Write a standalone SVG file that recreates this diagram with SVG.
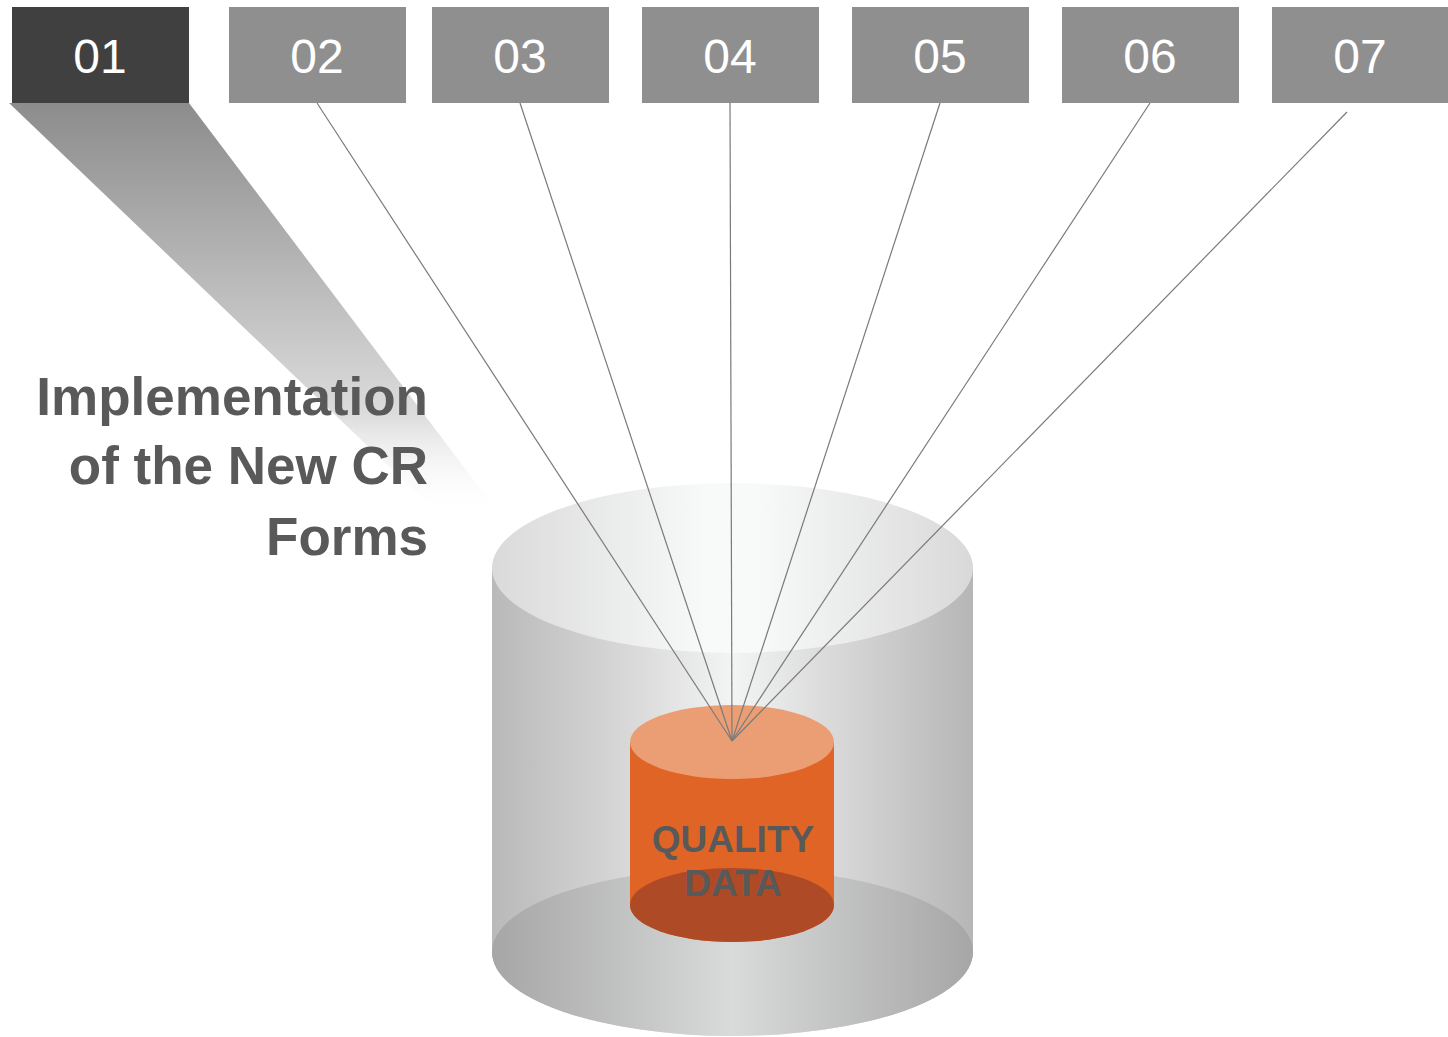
<svg xmlns="http://www.w3.org/2000/svg" width="1448" height="1037" viewBox="0 0 1448 1037">
<defs>
<style>
.box{fill:#8f8f8f}
.box1{fill:#404040}
.num{font-family:"Liberation Sans",Arial,sans-serif;font-size:48px;fill:#ffffff;text-anchor:middle}
.title{font-family:"Liberation Sans",Arial,sans-serif;font-size:53px;font-weight:bold;fill:#595959;text-anchor:end}
.qd{font-family:"Liberation Sans",Arial,sans-serif;font-size:37px;font-weight:bold;fill:#595959;text-anchor:middle}
.conn line{stroke:#7a7a7a;stroke-width:1.2;fill:none}
</style>
<linearGradient id="beam" x1="0" y1="103" x2="0" y2="518" gradientUnits="userSpaceOnUse">
<stop offset="0" stop-color="#8c8c8c"/>
<stop offset="0.75" stop-color="#dcdcdc"/>
<stop offset="1" stop-color="#ffffff" stop-opacity="0"/>
</linearGradient>
<linearGradient id="side" x1="492" y1="0" x2="973" y2="0" gradientUnits="userSpaceOnUse">
<stop offset="0" stop-color="#b9b9b9"/>
<stop offset="0.3" stop-color="#dadada"/>
<stop offset="0.5" stop-color="#f3f4f4"/>
<stop offset="0.7" stop-color="#dadada"/>
<stop offset="1" stop-color="#b6b6b6"/>
</linearGradient>
<linearGradient id="topg" x1="492" y1="0" x2="973" y2="0" gradientUnits="userSpaceOnUse">
<stop offset="0" stop-color="#dadada"/>
<stop offset="0.45" stop-color="#f8f9f9"/>
<stop offset="0.55" stop-color="#f8f9f9"/>
<stop offset="1" stop-color="#d9d9d9"/>
</linearGradient>
<linearGradient id="floor" x1="492" y1="0" x2="973" y2="0" gradientUnits="userSpaceOnUse">
<stop offset="0" stop-color="#a6a6a6"/>
<stop offset="0.5" stop-color="#d9dada"/>
<stop offset="1" stop-color="#a6a6a6"/>
</linearGradient>
</defs>

<polygon id="beam01" points="9,103 189,103 500,515 445,520" fill="url(#beam)"/>

<g id="outer-cylinder">
<path d="M492,568 L492,952 A240.5,84 0 0 0 973,952 L973,568 Z" fill="url(#side)"/>
<ellipse cx="732.5" cy="952" rx="240.5" ry="84" fill="url(#floor)"/>
</g>

<g id="quality-data">
<path d="M630,742 L630,905 A102,37 0 0 0 834,905 L834,742 Z" fill="#e06425"/>
<ellipse cx="732" cy="905" rx="102" ry="37" fill="#ae4a26"/>
<ellipse cx="732" cy="742" rx="102" ry="37" fill="#eb9e73"/>
<text class="qd" x="733" y="852">QUALITY</text>
<text class="qd" x="733" y="896">DATA</text>
</g>

<g id="outer-top">
<ellipse cx="732.5" cy="568" rx="240.5" ry="85" fill="url(#topg)"/>
</g>

<g id="connectors" class="conn">
<line x1="317" y1="103" x2="732" y2="741"/>
<line x1="520" y1="103" x2="732" y2="741"/>
<line x1="730" y1="103" x2="732" y2="741"/>
<line x1="940" y1="103" x2="732" y2="741"/>
<line x1="1150" y1="103" x2="732" y2="741"/>
<line x1="1347" y1="112" x2="732" y2="741"/>
</g>

<g id="n01"><rect class="box1" x="12" y="7" width="177" height="96"/><text class="num" x="100" y="73">01</text></g>
<g id="n02"><rect class="box" x="229" y="7" width="177" height="96"/><text class="num" x="317" y="73">02</text></g>
<g id="n03"><rect class="box" x="432" y="7" width="177" height="96"/><text class="num" x="520" y="73">03</text></g>
<g id="n04"><rect class="box" x="642" y="7" width="177" height="96"/><text class="num" x="730" y="73">04</text></g>
<g id="n05"><rect class="box" x="852" y="7" width="177" height="96"/><text class="num" x="940" y="73">05</text></g>
<g id="n06"><rect class="box" x="1062" y="7" width="177" height="96"/><text class="num" x="1150" y="73">06</text></g>
<g id="n07"><rect class="box" x="1272" y="7" width="176" height="96"/><text class="num" x="1360" y="73">07</text></g>

<g id="title">
<text class="title" x="428" y="415">Implementation</text>
<text class="title" x="428" y="484">of the New CR</text>
<text class="title" x="428" y="555">Forms</text>
</g>
</svg>
